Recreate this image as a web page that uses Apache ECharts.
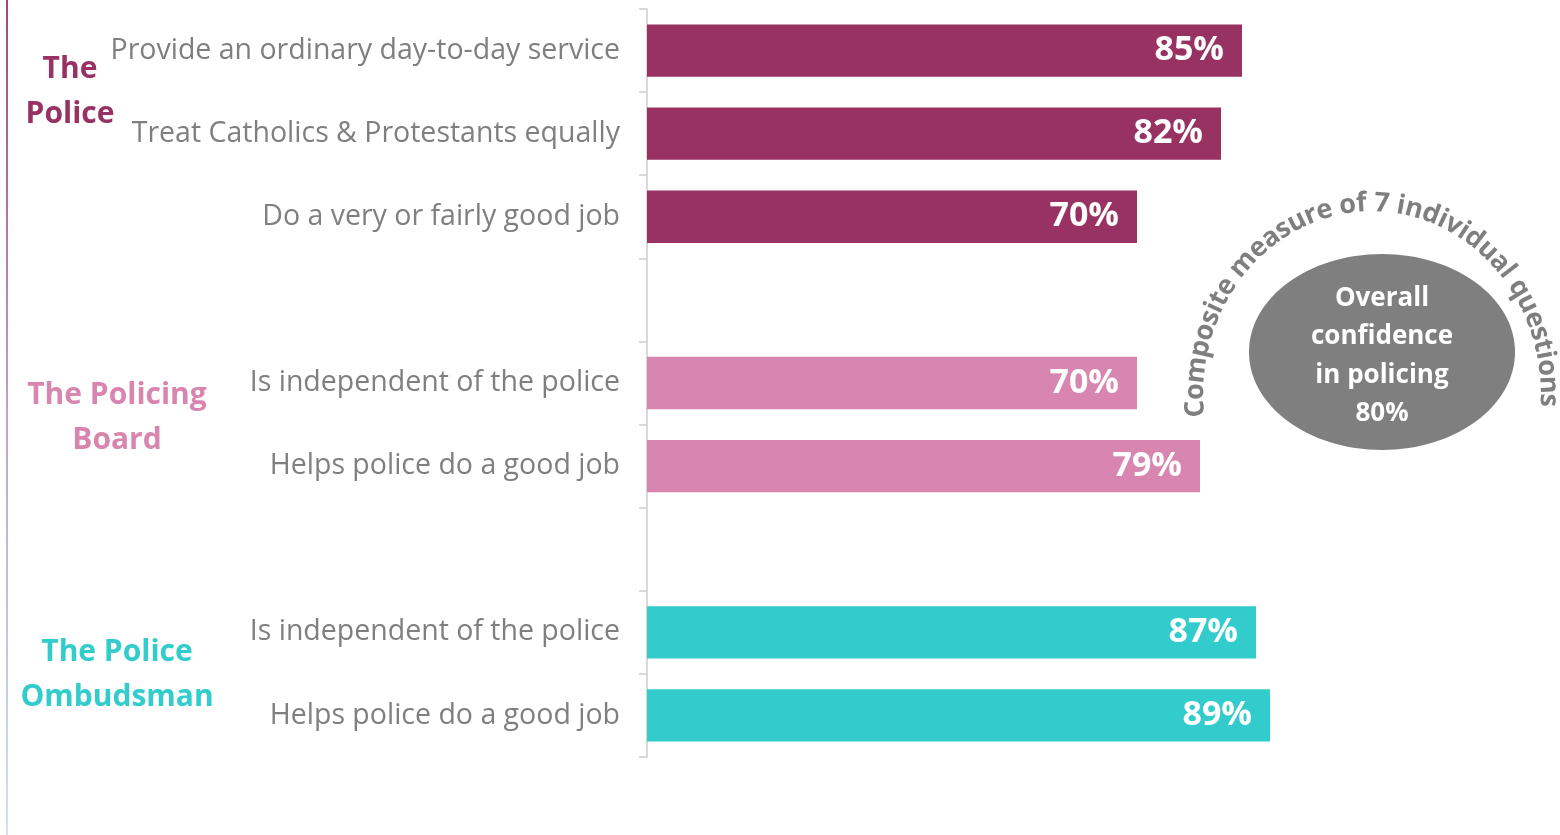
<!DOCTYPE html>
<html>
<head>
<meta charset="utf-8">
<script src="https://cdn.jsdelivr.net/npm/echarts@6/dist/echarts.min.js"></script>
<style>
  html, body { margin: 0; padding: 0; background: #ffffff; }
  #chart { width: 1560px; height: 835px; }
</style>
</head>
<body>
<div id="chart"></div>
<script>
// ---- data ----
const groupNames = ['The\nPolice', 'The Policing\nBoard', 'The Police\nOmbudsman'];
const policeItems = ['Provide an ordinary day-to-day service', 'Treat Catholics & Protestants equally', 'Do a very or fairly good job'];
const policeValues = [85, 82, 70];
const boardItems = ['Is independent of the police', 'Helps police do a good job'];
const boardValues = [70, 79];
const ombudsmanItems = ['Is independent of the police', 'Helps police do a good job'];
const ombudsmanValues = [87, 89];
const overallLabel = 'Overall\nconfidence\nin policing';
const overallValue = 80;
const compositeNote = 'Composite measure of 7 individual questions';

// ---- styles ----
const FONT = '"Open Sans", "Noto Sans", Lato, sans-serif';
const groupColors = ['#983262', '#D886B0', '#33CCCC'];
const labelGray = '#7F7F7F';

// ---- build category list with gaps ----
const groups = [
  { items: policeItems, values: policeValues },
  { items: boardItems, values: boardValues },
  { items: ombudsmanItems, values: ombudsmanValues }
];
const catKeys = [], catText = {}, seriesData = [], groupIdx = [];
groups.forEach((g, gi) => {
  if (gi > 0) {
    const k = 'gap' + gi;
    catKeys.push(k); catText[k] = ''; seriesData.push('-');
  }
  const start = catKeys.length;
  g.items.forEach((name, i) => {
    const k = 'g' + gi + '_' + i;
    catKeys.push(k); catText[k] = name;
    seriesData.push({ value: g.values[i], itemStyle: { color: groupColors[gi] } });
  });
  groupIdx.push([start, catKeys.length - 1]);
});

const chart = echarts.init(document.getElementById('chart'), null, { renderer: 'canvas' });

const option = {
  backgroundColor: '#ffffff',
  animation: false,
  grid: { left: 647, top: 9, width: 700, height: 748, containLabel: false },
  xAxis: { type: 'value', min: 0, max: 100, show: false },
  yAxis: {
    type: 'category',
    inverse: true,
    data: catKeys,
    axisLine: { show: true, lineStyle: { color: '#D9D9D9', width: 2 } },
    axisTick: { show: true, length: 8, lineStyle: { color: '#D9D9D9', width: 2 } },
    axisLabel: {
      margin: 27,
      color: labelGray,
      fontFamily: FONT,
      fontSize: 28.5,
      lineHeight: 34,
      padding: [6, 0, 0, 0],
      formatter: (v) => catText[v]
    },
    splitLine: { show: false }
  },
  series: [{
    type: 'bar',
    data: seriesData,
    barWidth: '63%',
    label: {
      show: true,
      position: 'insideRight',
      distance: 18,
      color: '#ffffff',
      fontFamily: FONT,
      fontWeight: 'bold',
      fontSize: 34,
      padding: [5, 0, 0, 0],
      formatter: (p) => p.value + '%'
    }
  }]
};
chart.setOption(option);

// ---- annotations ----
const graphics = [];
// left gradient rule
graphics.push({
  type: 'line', shape: { x1: 7, y1: 0, x2: 7, y2: 835 },
  style: {
    lineWidth: 2,
    stroke: new echarts.graphic.LinearGradient(0, 0, 0, 1, [
      { offset: 0, color: '#A3457A' },
      { offset: 0.5, color: '#B9A6CE' },
      { offset: 1, color: '#CFE2F3' }
    ])
  }
});
// group labels
const groupX = [70, 117, 117];
const groupDy = [-42, -7, 1];
groupIdx.forEach((r, gi) => {
  const y0 = chart.convertToPixel({ yAxisIndex: 0 }, catKeys[r[0]]);
  const y1 = chart.convertToPixel({ yAxisIndex: 0 }, catKeys[r[1]]);
  graphics.push({
    type: 'text', x: groupX[gi], y: (y0 + y1) / 2 + groupDy[gi],
    style: {
      text: groupNames[gi], align: 'center', verticalAlign: 'middle',
      font: 'bold 30px ' + FONT, lineHeight: 45, fill: groupColors[gi]
    }
  });
});
// ellipse
const ecx = 1382, ecy = 352;
graphics.push({ type: 'ellipse', shape: { cx: ecx, cy: ecy, rx: 133, ry: 98 }, style: { fill: '#7F7F7F' } });
graphics.push({
  type: 'text', x: ecx, y: ecy + 4,
  style: {
    text: overallLabel + '\n' + overallValue + '%', align: 'center', verticalAlign: 'middle',
    font: 'bold 26px ' + FONT, lineHeight: 38.5, fill: '#ffffff'
  }
});
// curved text
(function () {
  const cx = 1372, cy = 394, rx = 163, ry = 177;
  const deg = Math.PI / 180;
  const tStart = 187 * deg, tEnd = -4 * deg;
  const N = 2000;
  const pts = [];
  let s = 0;
  for (let i = 0; i <= N; i++) {
    const t = tStart + (tEnd - tStart) * i / N;
    const x = cx + rx * Math.cos(t), y = cy - ry * Math.sin(t);
    if (i > 0) s += Math.hypot(x - pts[i - 1].x, y - pts[i - 1].y);
    pts.push({ t, x, y, s });
  }
  const L = s;
  const font = 'bold 27px ' + FONT;
  const ctx = document.createElement('canvas').getContext('2d');
  ctx.font = font;
  const chars = compositeNote.split('');
  const widths = chars.map(c => ctx.measureText(c).width);
  const W = widths.reduce((a, b) => a + b, 0);
  const k = L / W;
  let acc = 0;
  let j = 0;
  chars.forEach((c, i) => {
    const target = (acc + widths[i] / 2) * k;
    acc += widths[i];
    while (j < N && pts[j + 1].s < target) j++;
    const p = pts[j];
    const t = p.t;
    const dx = rx * Math.sin(t), dy = ry * Math.cos(t);
    const ang = Math.atan2(-dy, dx);
    graphics.push({
      type: 'text', x: p.x, y: p.y, rotation: ang,
      style: { text: c, font: font, fill: '#7F7F7F', align: 'center', verticalAlign: 'bottom' }
    });
  });
})();
chart.setOption({ graphic: graphics });
</script>
</body>
</html>
